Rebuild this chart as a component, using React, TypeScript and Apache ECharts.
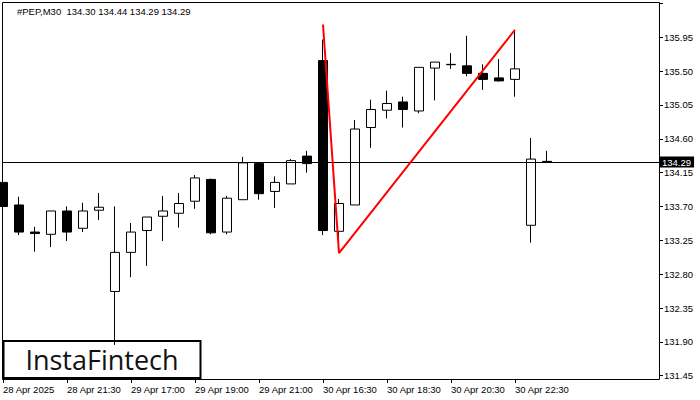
import React, { useEffect, useRef } from "react";
import * as echarts from "echarts";

// category labels (every 4th candle)
const timeLabels = [
  "28 Apr 2025", "28 Apr 21:30", "29 Apr 17:00", "29 Apr 19:00", "29 Apr 21:00",
  "30 Apr 16:30", "30 Apr 18:30", "30 Apr 20:30", "30 Apr 22:30",
];
const slotCount = 42;

// OHLC values per candle
const opens = [134.02, 133.72, 133.36, 133.33, 133.64, 133.41, 133.65, 132.57, 133.09, 133.38, 133.57, 133.61, 133.77, 134.06, 133.36, 133.79, 134.27, 133.90, 134.00, 134.37, 135.64, 133.37, 133.72, 134.75, 134.98, 135.09, 134.97, 135.54, 135.59, 135.57, 135.47, 135.41, 135.39, 133.45, 134.30];
const closes = [133.70, 133.36, 133.34, 133.64, 133.36, 133.64, 133.69, 133.09, 133.36, 133.56, 133.64, 133.74, 134.08, 133.35, 133.81, 134.28, 133.87, 134.02, 134.31, 134.27, 133.38, 133.74, 134.73, 134.99, 135.07, 134.99, 135.55, 135.62, 135.585, 135.47, 135.39, 135.37, 135.53, 134.33, 134.29];
const lows = [133.56, 133.32, 133.10, 133.16, 133.24, 133.36, 133.52, 131.86, 132.76, 132.91, 133.24, 133.42, 133.67, 133.33, 133.33, 133.79, 133.79, 133.68, 134.00, 134.15, 133.32, 133.28, 133.72, 134.48, 134.87, 134.75, 134.94, 135.11, 135.53, 135.43, 135.25, 135.36, 135.16, 133.22, 134.29];
const highs = [134.12, 133.83, 133.43, 133.64, 133.70, 133.75, 133.88, 133.70, 133.48, 133.56, 133.84, 133.88, 134.12, 134.07, 133.84, 134.36, 134.28, 134.10, 134.33, 134.44, 135.92, 133.80, 134.85, 135.12, 135.24, 135.16, 135.55, 135.62, 135.74, 135.97, 135.59, 135.66, 136.04, 134.61, 134.44];

// red pattern line: [candle index, price]
const patternIdx = [20, 21, 32];
const patternPrice = [136.12, 133.08, 136.05];

const lastPrice = 134.29;
const titleText = "#PEP,M30  134.30 134.44 134.29 134.29";

// price axis
const priceMin = 131.45;
const priceMax = 136.419;
const priceStep = 0.45;
const lastLabelled = 135.95;

const FONT = '"Liberation Sans", Arial, sans-serif';

export default function App() {
  const ref = useRef<HTMLDivElement>(null);
  useEffect(() => {
    document.body.style.margin = "0";
    const chart = echarts.init(ref.current!, undefined, { renderer: "svg" });
    const cats: string[] = [];
    for (let i = 0; i < slotCount; i++) {
      cats.push(i % 4 === 0 && i / 4 < timeLabels.length ? timeLabels[i / 4] : "");
    }
    const candles = opens.map((o, i) => [o, closes[i], lows[i], highs[i]]);
    const pattern = patternIdx.map((x, i) => [x, patternPrice[i]]);
    const labelIdx = (i: number) => i % 4 === 0 && i / 4 < timeLabels.length;

    chart.setOption({
      animation: false,
      backgroundColor: "#ffffff",
      grid: {
        left: 3, right: 41, top: 2, bottom: 24.3,
        show: false,
      },
      xAxis: {
        type: "category",
        data: cats,
        boundaryGap: false,
        offset: 3.3,
        axisLine: { show: false },
        axisTick: { show: true, interval: (i: number) => labelIdx(i), length: 4, lineStyle: { color: "#000" } },
        axisLabel: {
          interval: (i: number) => labelIdx(i),
          align: "left",
          margin: 5,
          color: "#000",
          fontSize: 9.5,
          fontFamily: FONT,
        },
        splitLine: { show: false },
      },
      yAxis: {
        type: "value",
        position: "right",
        min: priceMin,
        max: priceMax,
        interval: priceStep,
        axisLine: { show: false },
        axisTick: { show: true, length: 4, lineStyle: { color: "#000" } },
        axisLabel: {
          showMaxLabel: false,
          margin: 5,
          color: "#000",
          fontSize: 9.5,
          fontFamily: FONT,
          formatter: (v: number) => (v > lastLabelled + 0.01 ? "" : v.toFixed(2)),
        },
        splitLine: { show: false },
      },
      series: [
        {
          type: "candlestick",
          data: candles,
          barWidth: 10,
          clip: true,
          itemStyle: {
            color: "#ffffff",
            color0: "#000000",
            borderColor: "#000000",
            borderColor0: "#000000",
            borderWidth: 1,
          },
          markLine: {
            silent: true,
            symbol: ["none", "none"],
            lineStyle: { color: "#000", width: 1, type: "solid" },
            label: {
              show: true,
              position: "end",
              distance: 1,
              backgroundColor: "#000",
              color: "#fff",
              fontSize: 9.5,
              fontFamily: FONT,
              padding: [1, 3, 0, 2],
              formatter: () => lastPrice.toFixed(2),
            },
            data: [{ yAxis: lastPrice }],
          },
        },
        {
          type: "line",
          data: pattern,
          symbol: "none",
          lineStyle: { color: "#ff0000", width: 2 },
          z: 5,
        },
      ],
      graphic: [
        {
          type: "rect",
          z: 50,
          shape: { x: 2.5, y: 2.5, width: 657, height: 377 },
          style: { fill: "none", stroke: "#000", lineWidth: 1 },
        },
        {
          type: "text",
          x: 17,
          y: 6,
          style: { text: titleText, fill: "#000", fontSize: 9.5, fontFamily: FONT },
        },
        {
          type: "group",
          z: 100,
          children: [
            {
              type: "rect",
              shape: { x: 3.5, y: 341, width: 197, height: 37 },
              style: { fill: "#fff", stroke: "#000", lineWidth: 2 },
            },
            {
              type: "text",
              x: 102,
              y: 359.5,
              style: {
                text: "InstaFintech",
                fill: "#111",
                fontSize: 27,
                fontWeight: 500,
                fontFamily: '"Open Sans", Lato, sans-serif',
                align: "center",
                verticalAlign: "middle",
              },
            },
          ],
        },
      ],
    });
    return () => chart.dispose();
  }, []);
  return (
    <div
      ref={ref}
      style={{ position: "fixed", left: 0, top: 0, width: 700, height: 400, background: "#fff" }}
    />
  );
}
